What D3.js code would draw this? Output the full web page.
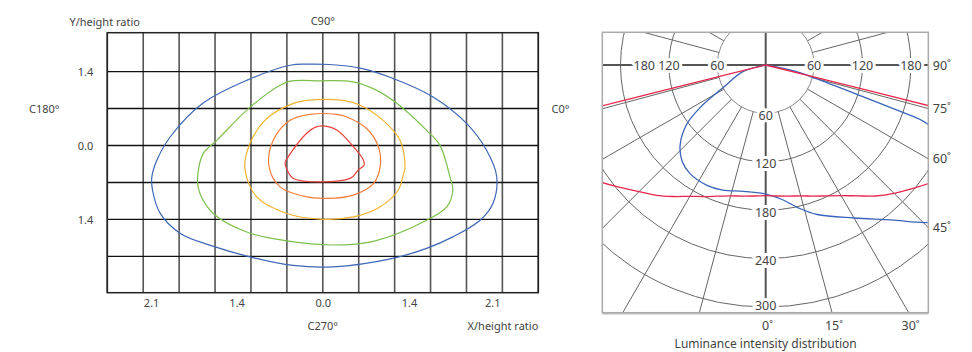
<!DOCTYPE html>
<html>
<head>
<meta charset="utf-8">
<script src="https://cdn.jsdelivr.net/npm/d3@7/dist/d3.min.js"></script>
<style>
  html, body { margin: 0; padding: 0; background: #fff; }
  svg { display: block; font-family: "Noto Sans", "Open Sans", sans-serif; }
</style>
</head>
<body>
<svg id="chart" width="972" height="352"></svg>
<script>
// ---------- Data: left (isolux contour) chart, in grid-cell units ----------
const gridX = d3.range(-6, 7);          // vertical grid lines
const gridY = [2, 1, 0, -1, -2, -3];    // horizontal grid lines
const xTickPos = [-4.78, -2.4, 0, 2.4, 4.72];
const xTickLabels = ["2.1", "1.4", "0.0", "1.4", "2.1"];
const yTickPos = [2, 0, -2];
const yTickLabels = ["1.4", "0.0", "1.4"];

const contourBlue = [[-2.12,1.76],[-0.91,2.17],[-0.45,2.20],[0.2,2.19],[1.04,2.09],[1.96,1.81],[3.07,1.31],[4.01,0.59],[4.56,-0.13],[4.84,-0.83],[4.74,-1.56],[4.38,-2.02],[3.62,-2.47],[2.89,-2.78],[1.95,-3.05],[0.28,-3.28],[-0.83,-3.24],[-2.03,-3.01],[-3.06,-2.72],[-3.98,-2.37],[-4.53,-1.83],[-4.74,-1.21],[-4.76,-0.85],[-4.62,-0.40],[-4.25,0.23],[-3.34,1.14]];
const contourGreen = [[-1.19,1.63],[-0.91,1.74],[-0.08,1.75],[0.85,1.72],[1.50,1.49],[2.06,1.14],[2.89,0.41],[3.26,0.01],[3.54,-0.85],[3.62,-1.21],[3.45,-1.66],[2.89,-2.02],[1.41,-2.59],[0.29,-2.69],[-1.00,-2.58],[-2.12,-2.34],[-3.05,-1.84],[-3.42,-1.30],[-3.49,-0.94],[-3.33,-0.22],[-2.95,0.14],[-2.03,1.03]];
const contourYellow = [[-0.82,1.14],[-0.45,1.22],[0.56,1.22],[1.04,1.09],[1.68,0.68],[2.15,0.14],[2.29,-0.58],[2.24,-0.80],[2.10,-1.21],[1.59,-1.66],[0.85,-1.93],[-0.08,-1.99],[-1.00,-1.84],[-1.84,-1.39],[-2.17,-0.62],[-2.03,0.05],[-1.56,0.73]];
const contourOrange = [[-0.91,0.68],[-0.36,0.84],[0.39,0.84],[0.67,0.77],[1.22,0.46],[1.55,-0.04],[1.60,-0.55],[1.41,-1.03],[0.85,-1.34],[0.11,-1.43],[-0.54,-1.37],[-1.19,-1.12],[-1.50,-0.55],[-1.38,0.14]];
const contourRed = [[0,0.53],[0.39,0.42],[0.85,-0.03],[1.13,-0.39],[1.15,-0.53],[0.99,-0.66],[0.76,-0.89],[-0.82,-0.89],[-1.01,-0.62],[-1.05,-0.46],[-0.96,-0.30],[-0.45,0.33],[-0.22,0.49]];
const contourNames = ["blue", "green", "yellow", "orange", "red"];
const contourColors = ["#3d67b6", "#7cc04c", "#f2b232", "#f47d3b", "#e8403a"];

// ---------- Data: right (luminance) chart ----------
const ringValues = [60, 120, 180, 240, 300];
const hAxisRight = [60, 120, 180];
const hAxisLeft = [60, 120, 180];
const vAxisValues = [60, 120, 180, 240, 300];
const gammaRight = [90, 75, 60, 45];
const gammaBottom = [0, 15, 30];

const redAngles = [-90,-76,-76,-76,-65,-55,-50,-45,-40,-35,-30,-25,-20,-15,-10,-5,0,5,10,15,20,25,30,35,40,45,50,55,65,76,76,76,90];
const redValues = [0,110,220,330,290,252,236,222,211,199,188,180,173,168,165,163,162,163,165,168,173,179,187,198,212,225,238,253,290,330,220,110,0];
const blueAngles = [-90,-74,-62,-57,-53,-47,-41,-35,-26,-19,-10,0,7,13,19,30,39,46,52,58,64,70,71,72,75,78,90];
const blueValues = [0,29,60,97,123,145,158,164,166,164,159,160,168,182,196,219,247,281,305,300,265,213,174,125,63,37,0];

// ================= drawing =================
const svg = d3.select("#chart");
const textColor = "#444";

// ---------- Left chart ----------
const L = { x0: 107.3, x1: 538.3, y0: 32.7, y1: 292.7 };
const xL = d3.scaleLinear().domain([-6, 6]).range([L.x0, L.x1]);
const yL = d3.scaleLinear().domain([3.05, -3.98]).range([L.y0, L.y1]);
const gL = svg.append("g");

gL.selectAll("line.v").data(gridX).join("line")
  .attr("x1", d => xL(d)).attr("x2", d => xL(d))
  .attr("y1", L.y0).attr("y2", L.y1)
  .attr("stroke", "#555").attr("stroke-width", 1.6);
gL.selectAll("line.h").data(gridY).join("line")
  .attr("x1", L.x0).attr("x2", L.x1)
  .attr("y1", d => yL(d)).attr("y2", d => yL(d))
  .attr("stroke", "#111").attr("stroke-width", 1.3);
gL.append("rect")
  .attr("x", L.x0).attr("y", L.y0).attr("width", L.x1 - L.x0).attr("height", L.y1 - L.y0)
  .attr("fill", "none").attr("stroke", "#222").attr("stroke-width", 1.5);

const contourLine = d3.line().x(d => xL(d[0])).y(d => yL(d[1])).curve(d3.curveCatmullRomClosed.alpha(0.5));
const contours = [contourBlue, contourGreen, contourYellow, contourOrange, contourRed];
gL.selectAll("path.c").data(contours).join("path")
  .attr("class", (d, i) => "c " + contourNames[i])
  .attr("d", contourLine)
  .attr("fill", "none")
  .attr("stroke", (d, i) => contourColors[i])
  .attr("stroke-width", 1.2);

const xAxisL = d3.axisBottom(xL).tickValues(xTickPos)
  .tickFormat((d, i) => xTickLabels[i]).tickSize(0).tickPadding(7);
const gxa = gL.append("g").attr("transform", `translate(0,${L.y1})`).call(xAxisL);
const yAxisL = d3.axisLeft(yL).tickValues(yTickPos)
  .tickFormat((d, i) => yTickLabels[i]).tickSize(0).tickPadding(14);
const gya = gL.append("g").attr("transform", `translate(${L.x0},0)`).call(yAxisL);
[gxa, gya].forEach(g => {
  g.select(".domain").remove();
  g.selectAll("text").attr("font-size", 11).attr("fill", textColor).attr("font-family", "Noto Sans, sans-serif");
});

function label(g, x, y, txt, anchor, size) {
  return g.append("text").attr("x", x).attr("y", y).attr("text-anchor", anchor || "middle")
    .attr("dominant-baseline", "central").attr("font-size", size || 11).attr("fill", textColor).text(txt);
}
label(gL, 104.7, 21, "Y/height ratio");
label(gL, xL(0), 20.5, "C90°");
label(gL, 59.5, yL(1), "C180°", "end");
label(gL, 551.5, yL(1), "C0°", "start");
label(gL, xL(0), 325, "C270°");
label(gL, L.x1, 325, "X/height ratio", "end");

// ---------- Right chart ----------
const R = { x0: 602.3, x1: 928.3, y0: 32.3, y1: 312.7 };
const cx = 765.7, cy = 65;
const r = d3.scaleLinear().domain([0, 300]).range([0, 242]);
const rad = d => d * Math.PI / 180;
const gR = svg.append("g");
svg.append("defs").append("clipPath").attr("id", "frameClip")
  .append("rect").attr("x", R.x0).attr("y", R.y0).attr("width", R.x1 - R.x0).attr("height", R.y1 - R.y0);
const inner = gR.append("g").attr("clip-path", "url(#frameClip)");

inner.selectAll("circle.ring").data(ringValues).join("circle")
  .attr("cx", cx).attr("cy", cy).attr("r", d => r(d))
  .attr("fill", "none").attr("stroke", (d, i) => i === 0 ? "#8a8a8a" : "#666").attr("stroke-width", 1);

const spokes = d3.range(0, 360, 15).filter(a => a % 90 !== 0);
inner.selectAll("line.spoke").data(spokes).join("line")
  .attr("x1", a => cx + r(60) * Math.sin(rad(a))).attr("y1", a => cy + r(60) * Math.cos(rad(a)))
  .attr("x2", a => cx + 450 * Math.sin(rad(a))).attr("y2", a => cy + 450 * Math.cos(rad(a)))
  .attr("stroke", "#666").attr("stroke-width", 1);

// axes
inner.append("line").attr("x1", R.x0).attr("x2", R.x1).attr("y1", cy).attr("y2", cy)
  .attr("stroke", "#555").attr("stroke-width", 2);
inner.append("line").attr("x1", cx).attr("x2", cx).attr("y1", R.y0).attr("y2", R.y1)
  .attr("stroke", "#555").attr("stroke-width", 2);

// curves (gamma measured from downward vertical, positive to the right)
const radial = d3.lineRadial().angle(d => Math.PI - rad(d[0])).radius(d => r(d[1]))
  .curve(d3.curveCatmullRom.alpha(0.5));
const redPts = redAngles.map((a, i) => [a, redValues[i]]);
const bluePts = blueAngles.map((a, i) => [a, blueValues[i]]);
const curves = inner.append("g").attr("transform", `translate(${cx},${cy})`);
curves.append("path").attr("d", radial(bluePts))
  .attr("fill", "none").attr("stroke", "#3a64b9").attr("stroke-width", 1.3);
curves.append("path").attr("d", radial(redPts))
  .attr("fill", "none").attr("stroke", "#e8264c").attr("stroke-width", 1.3);

// axis value labels with white halo
function haloLabel(x, y, txt) {
  gR.append("text").attr("x", x).attr("y", y).attr("text-anchor", "middle")
    .attr("dominant-baseline", "central").attr("font-size", 12.5).attr("fill", textColor)
    .attr("stroke", "#fff").attr("stroke-width", 6).attr("paint-order", "stroke")
    .text(txt);
}
hAxisRight.forEach(v => haloLabel(cx + r(v), cy, v));
hAxisLeft.forEach(v => haloLabel(Math.max(cx - r(v), R.x0 + 42), cy, v));
vAxisValues.forEach(v => haloLabel(cx, Math.min(cy + r(v) + 2, R.y1 - 7), v));

// frame
gR.append("rect").attr("x", R.x0).attr("y", R.y0).attr("width", R.x1 - R.x0).attr("height", R.y1 - R.y0)
  .attr("fill", "none").attr("stroke", "#aaa").attr("stroke-width", 1.5);
gR.append("line").attr("x1", R.x0).attr("x2", R.x1).attr("y1", R.y1 + 1).attr("y2", R.y1 + 1)
  .attr("stroke", "#bbb").attr("stroke-width", 1.5);

// gamma labels
gammaRight.forEach(g => {
  const y = g === 90 ? cy : cy + (R.x1 - cx) / Math.tan(rad(g));
  gR.append("text").attr("x", R.x1 + 4.5).attr("y", y).attr("dominant-baseline", "central")
    .attr("font-size", 12.5).attr("fill", textColor).text(g + "˚");
});
gammaBottom.forEach(g => {
  const x = cx + (R.y1 - cy) * Math.tan(rad(g));
  const t = gR.append("text").attr("y", 325.5).attr("dominant-baseline", "central")
    .attr("font-size", 12.5).attr("fill", textColor).text(String(g));
  const w = t.node().getComputedTextLength();
  t.attr("x", x - w / 2);
  t.append("tspan").text("˚");
});
label(gR, cx, 343.5, "Luminance intensity distribution", "middle", 12);
</script>
</body>
</html>
